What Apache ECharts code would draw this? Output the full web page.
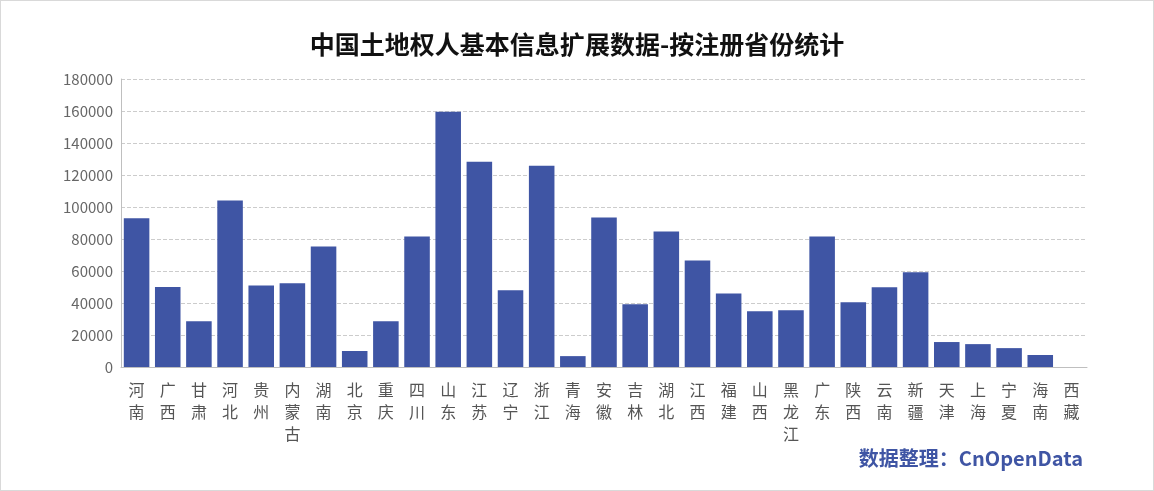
<!DOCTYPE html>
<html>
<head>
<meta charset="utf-8">
<script src="https://cdn.jsdelivr.net/npm/echarts@6/dist/echarts.min.js"></script>
<style>
  html, body { margin: 0; padding: 0; background: #fff; }
  #chart { width: 1152px; height: 489px; border: 1px solid #d9d9d9; }
</style>
</head>
<body>
<div id="chart"></div>
<script>
// 省份
const provinces = ['河南','广西','甘肃','河北','贵州','内蒙古','湖南','北京','重庆','四川','山东','江苏','辽宁','浙江','青海','安徽','吉林','湖北','江西','福建','山西','黑龙江','广东','陕西','云南','新疆','天津','上海','宁夏','海南','西藏'];
// 数量
const counts = [93000,50000,28600,104000,51000,52300,75300,10000,28600,81600,159500,128300,48000,125800,6800,93400,39200,84700,66600,46000,34900,35500,81600,40500,49800,59200,15600,14300,11800,7500,0];

const chart = echarts.init(document.getElementById('chart'));
chart.setOption({
  textStyle: { fontFamily: 'Noto Sans CJK SC' },
  title: {
    text: '中国土地权人基本信息扩展数据-按注册省份统计',
    left: 'center', top: 26,
    textStyle: { fontSize: 25, fontWeight: 'bold', color: '#111' }
  },
  graphic: [{
    type: 'text', right: 70, bottom: 22,
    style: { text: '数据整理：CnOpenData', fontSize: 20, fontWeight: 'bold', fill: '#3F55A4', fontFamily: 'Noto Sans CJK SC' }
  }],
  grid: { left: 120, right: 66, top: 78, bottom: 123 },
  xAxis: {
    type: 'category',
    data: provinces,
    axisTick: { show: false },
    axisLine: { lineStyle: { color: '#bfbfbf' } },
    axisLabel: {
      interval: 0, color: '#555', fontSize: 16, lineHeight: 22, margin: 12,
      formatter: v => v.split('').join('\n')
    }
  },
  yAxis: {
    type: 'value', min: 0, max: 180000, interval: 20000,
    axisLine: { show: true, lineStyle: { color: '#bfbfbf' } },
    axisLabel: { color: '#666', fontSize: 15, formatter: v => String(v) },
    splitLine: { lineStyle: { type: 'dashed', color: '#cccccc' } }
  },
  series: [{
    type: 'bar', data: counts, barWidth: '82%',
    itemStyle: { color: '#3F55A4' }
  }]
});
</script>
</body>
</html>
